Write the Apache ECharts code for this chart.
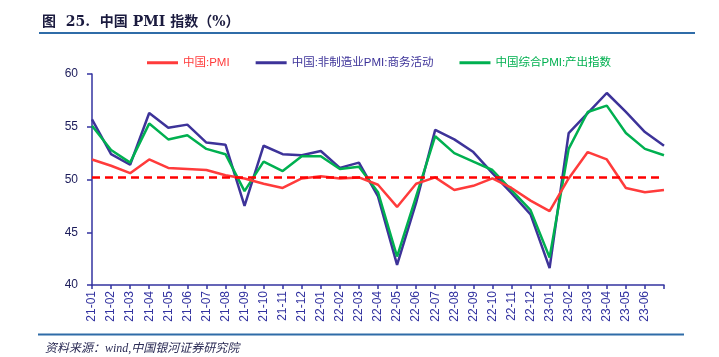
<!DOCTYPE html>
<html><head><meta charset="utf-8">
<script src="https://cdn.jsdelivr.net/npm/echarts@6/dist/echarts.min.js"></script>
<style>html,body{margin:0;padding:0;background:#fff;}#c{width:719px;height:357px;}</style>
</head><body><div id="c"></div>
<script>
const categories = ['21-01','21-02','21-03','21-04','21-05','21-06','21-07','21-08','21-09','21-10','21-11','21-12',
'22-01','22-02','22-03','22-04','22-05','22-06','22-07','22-08','22-09','22-10','22-11','22-12',
'23-01','23-02','23-03','23-04','23-05','23-06',''];
const pmi = [51.9,51.3,50.6,51.9,51.1,51.0,50.9,50.4,50.1,49.6,49.2,50.1,50.3,50.1,50.2,49.5,47.4,49.6,50.2,49.0,49.4,50.1,49.2,48.0,47.0,50.1,52.6,51.9,49.2,48.8,49.0];
const nonMfg = [55.7,52.4,51.4,56.3,54.9,55.2,53.5,53.3,47.5,53.2,52.4,52.3,52.7,51.1,51.6,48.4,41.9,47.8,54.7,53.8,52.6,50.6,48.7,46.7,41.6,54.4,56.3,58.2,56.4,54.5,53.2];
const composite = [55.1,52.8,51.6,55.3,53.8,54.2,52.9,52.4,48.9,51.7,50.8,52.2,52.2,51.0,51.2,48.8,42.7,48.4,54.1,52.5,51.7,50.9,49.0,47.1,42.6,52.9,56.4,57.0,54.4,52.9,52.3];
const seriesNames = ['中国:PMI','中国:非制造业PMI:商务活动','中国综合PMI:产出指数'];
const refLine = 50.2;
const yTicks = {min:40, max:60, interval:5};

const colors = ['#FF3B3B','#3D3399','#00B050'];
const axisColor = '#3333A0';
const chart = echarts.init(document.getElementById('c'));
chart.setOption({
  animation:false,
  backgroundColor:'#fff',
  title:{text:'图  25.  中国 PMI 指数（%）', left:37, top:10,
    textStyle:{fontSize:14, fontWeight:'bold', color:'#1B1B3F', fontFamily:'"DejaVu Serif","Noto Sans CJK SC",serif'}},
  graphic:[
    {type:'line', shape:{x1:39,y1:33,x2:695,y2:33}, style:{stroke:'#2F6CA8', lineWidth:2}},
    {type:'line', shape:{x1:38,y1:334.5,x2:684,y2:334.5}, style:{stroke:'#2F6CA8', lineWidth:2}},
    {type:'text', left:45, top:343, style:{text:'资料来源：wind,中国银河证券研究院', fill:'#2B2B55', font:'italic 12px "Liberation Serif","Noto Sans CJK SC",serif'}}
  ],
  legend:{left:142, top:52, itemWidth:31, itemHeight:3, itemGap:26, icon:'rect',
    textStyle:{fontSize:11.5, fontFamily:'"Liberation Sans","Noto Sans CJK SC",sans-serif'},
    data:seriesNames.map((n,i)=>({name:n, textStyle:{color:colors[i]}}))},
  grid:{left:92, right:55, top:74, bottom:72},
  xAxis:{type:'category', data:categories, boundaryGap:false,
    axisLine:{lineStyle:{color:axisColor, width:1.5}},
    axisTick:{show:true, length:4, interval:0, lineStyle:{color:axisColor, width:1.5}},
    axisLabel:{rotate:90, interval:0, margin:6, color:'#3333A0', fontSize:12, fontFamily:'"Liberation Sans",sans-serif'},
    splitLine:{show:false}},
  yAxis:{type:'value', min:yTicks.min, max:yTicks.max, interval:yTicks.interval,
    axisLine:{show:true, lineStyle:{color:axisColor, width:1.5}},
    axisTick:{show:true, length:5, lineStyle:{color:axisColor, width:1.5}},
    axisLabel:{margin:14, color:'#1B1B5A', fontSize:12, fontFamily:'"Liberation Sans",sans-serif'},
    splitLine:{show:false}},
  series:[
    {name:seriesNames[0], type:'line', data:pmi, symbol:'none', lineStyle:{width:2.5, color:colors[0]}, itemStyle:{color:colors[0]}, z:3,
      markLine:{silent:true, symbol:'none', label:{show:false}, lineStyle:{color:'#FF0000', type:[8,5], width:2.5},
        data:[{yAxis:refLine}]}},
    {name:seriesNames[1], type:'line', data:nonMfg, symbol:'none', lineStyle:{width:2.5, color:colors[1]}, itemStyle:{color:colors[1]}, z:2},
    {name:seriesNames[2], type:'line', data:composite, symbol:'none', lineStyle:{width:2.5, color:colors[2]}, itemStyle:{color:colors[2]}, z:2}
  ]
});
</script></body></html>
